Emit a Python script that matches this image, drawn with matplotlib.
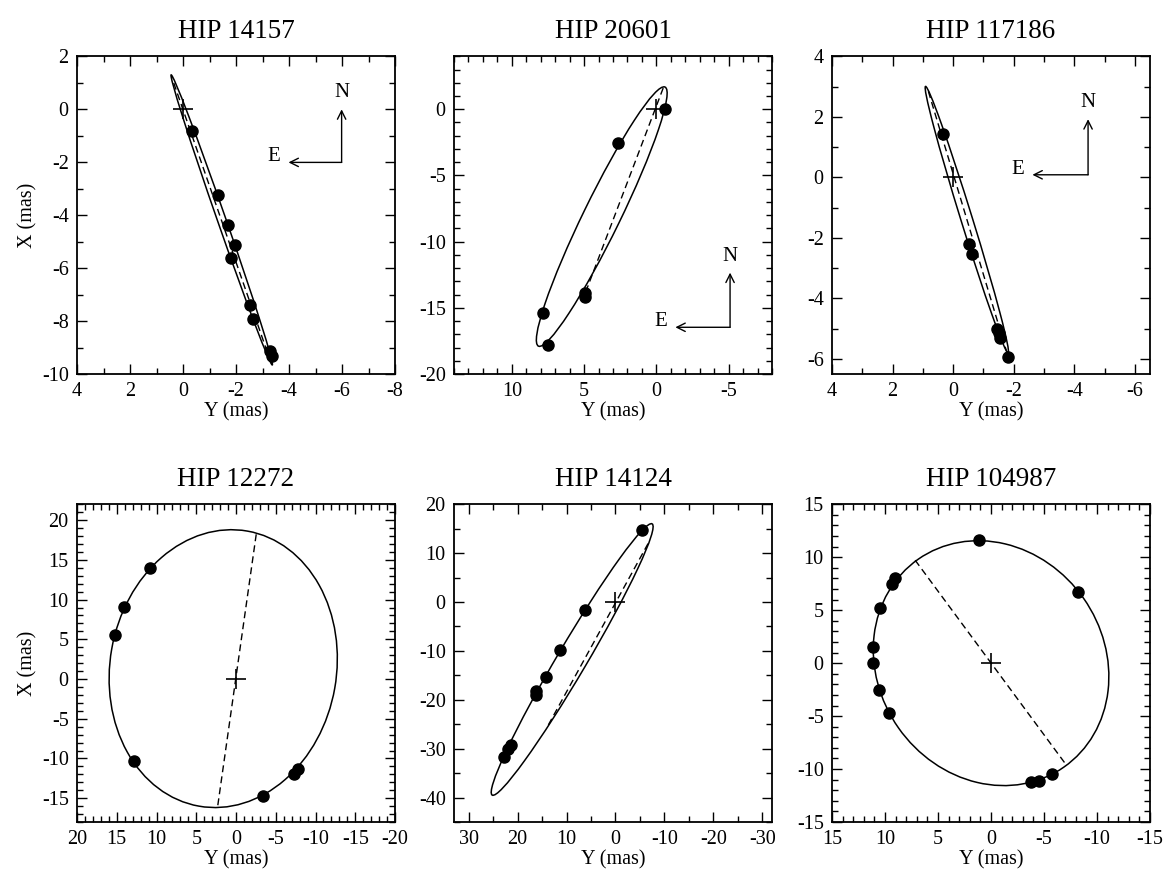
#!/usr/bin/env python3
import matplotlib
matplotlib.use("Agg")
import matplotlib.pyplot as plt  # draw plots
from matplotlib.patches import Ellipse  # orbit outlines
from matplotlib.ticker import MultipleLocator  # tick spacing

plt.rcParams["font.family"] = ["Liberation Serif", "DejaVu Serif"]
plt.rcParams["axes.unicode_minus"] = False

# one panel per star, left to right, top to bottom
stars = ["HIP 14157", "HIP 20601", "HIP 117186",
         "HIP 12272", "HIP 14124", "HIP 104987"]

# observed positions (mas): Y is horizontal, X is vertical
y_14157 = [-0.32, -1.31, -1.71, -1.98, -1.82, -2.51, -2.65, -3.28, -3.37]
x_14157 = [-0.83, -3.23, -4.37, -5.12, -5.62, -7.38, -7.91, -9.15, -9.31]

y_20601 = [-0.59, 2.69, 4.97, 4.97, 7.82, 7.48]
x_20601 = [0.02, -2.55, -13.88, -14.21, -15.40, -17.84]

y_117186 = [0.33, -0.52, -0.61, -1.43, -1.52, -1.54, -1.81]
x_117186 = [1.44, -2.22, -2.52, -5.01, -5.16, -5.31, -5.94]

y_12272 = [10.78, 14.05, 15.18, 12.88, -3.33, -7.23, -7.78]
x_12272 = [14.03, 9.08, 5.59, -10.31, -14.76, -11.91, -11.28]

y_14124 = [-5.50, 6.13, 11.30, 14.29, 16.27, 16.27, 21.44, 21.91, 22.80]
x_14124 = [14.82, -1.54, -9.86, -15.31, -18.24, -18.92, -29.28, -29.97, -31.80]

y_104987 = [1.11, -8.20, 9.04, 9.36, 10.45, 11.18, 11.15, 10.55, 9.67,
            -5.78, -4.50, -3.81]
x_104987 = [11.67, 6.73, 8.05, 7.52, 5.22, 1.51, -0.03, -2.58, -4.69,
            -10.49, -11.10, -11.26]

obs_y = [y_14157, y_20601, y_117186, y_12272, y_14124, y_104987]
obs_x = [x_14157, x_20601, x_117186, x_12272, x_14124, x_104987]

# apparent orbit: centre, semi-axes (mas) and tilt (deg, in the Y-X plane)
orbit_cy = [-1.46, 3.78, -0.45, 1.61, 8.85, 0.0]
orbit_cx = [-4.18, -8.11, -1.40, 1.31, -11.75, 0.0]
orbit_a = [5.80, 10.72, 4.61, 17.58, 32.2, 11.98]
orbit_b = [0.16, 1.28, 0.19, 14.24, 3.0, 10.66]
orbit_tilt = [70.8, 114.06, 72.8, 100.0, 120.5, 55.0]

# line of nodes end points (mas)
node_y = [(0.35, -3.30), (-0.47, 4.83), (0.82, -1.76),
          (-2.54, 2.32), (-6.66, 13.75), (7.16, -7.10)]
node_x = [(0.99, -9.52), (1.60, -13.63), (2.84, -5.75),
          (18.22, -16.10), (11.96, -25.20), (9.72, -9.62)]

# axis ranges and tick steps
y_lims = [(4, -8), (14, -8), (4, -6.5), (20, -20), (33, -32), (15, -15)]
x_lims = [(-10, 2), (-20, 4), (-6.5, 4), (-18, 22), (-45, 20), (-15, 15)]
major_step = [2, 5, 2, 5, 10, 5]
minor_step = [1, 1, 1, 1, 5, 1]

# N/E compass (axes fraction): corner x, corner y, arm length; None = no compass
compass = [(0.832, 0.666, 0.167), (0.868, 0.147, 0.172), (0.805, 0.627, 0.175),
           None, None, None]

# axes placement in figure fraction
col_left = [0.0661, 0.3897, 0.7142]
row_bottom = [0.5721, 0.0595]
ax_w = 0.273
ax_h = 0.3635


def draw_compass(ax, cx, cy, arm):
    arrow = dict(arrowstyle="->", lw=1.0, color="black", mutation_scale=15,
                 shrinkA=0, shrinkB=0)
    ax.annotate("", xy=(cx, cy + arm), xytext=(cx, cy),
                xycoords="axes fraction", arrowprops=arrow)
    ax.annotate("", xy=(cx - arm, cy), xytext=(cx, cy),
                xycoords="axes fraction", arrowprops=arrow)
    ax.text(cx, cy + arm + 0.052, "N", transform=ax.transAxes,
            ha="center", va="center", fontsize=15)
    ax.text(cx - arm - 0.047, cy + 0.018, "E", transform=ax.transAxes,
            ha="center", va="center", fontsize=15)


def draw_panel(ax, i):
    # orbit outline
    ax.add_patch(Ellipse((orbit_cy[i], orbit_cx[i]), 2 * orbit_a[i],
                         2 * orbit_b[i], angle=orbit_tilt[i], fill=False,
                         lw=1.1, color="black", zorder=2))
    # line of nodes
    ax.plot(node_y[i], node_x[i], color="black", lw=1.0,
            linestyle=(0, (5, 3)), zorder=2)
    # primary at the origin
    ax.plot([0], [0], marker="+", markersize=15, mew=1.2, color="black",
            linestyle="none", zorder=3)
    # measurements
    ax.plot(obs_y[i], obs_x[i], "o", color="black", markersize=8, zorder=4)

    ax.set_xlim(y_lims[i])
    ax.set_ylim(x_lims[i])
    ax.xaxis.set_major_locator(MultipleLocator(major_step[i]))
    ax.yaxis.set_major_locator(MultipleLocator(major_step[i]))
    ax.xaxis.set_minor_locator(MultipleLocator(minor_step[i]))
    ax.yaxis.set_minor_locator(MultipleLocator(minor_step[i]))
    ax.tick_params(which="both", direction="in", top=True, right=True,
                   width=1.0, labelsize=14.5, pad=6)
    ax.tick_params(which="major", length=7)
    ax.tick_params(which="minor", length=4)
    for sp in ax.spines.values():
        sp.set_linewidth(1.3)

    ax.set_title(stars[i], fontsize=19.5, pad=13)
    ax.set_xlabel("Y (mas)", fontsize=14.5, labelpad=1)
    if i % 3 == 0:
        ax.set_ylabel("X (mas)", fontsize=14.5, labelpad=3)

    if compass[i] is not None:
        draw_compass(ax, *compass[i])


def main():
    fig = plt.figure(figsize=(11.65, 8.74), dpi=100)
    for i in range(len(stars)):
        ax = fig.add_axes([col_left[i % 3], row_bottom[i // 3], ax_w, ax_h])
        draw_panel(ax, i)
    fig.savefig("out.png", dpi=100)


if __name__ == "__main__":
    main()
